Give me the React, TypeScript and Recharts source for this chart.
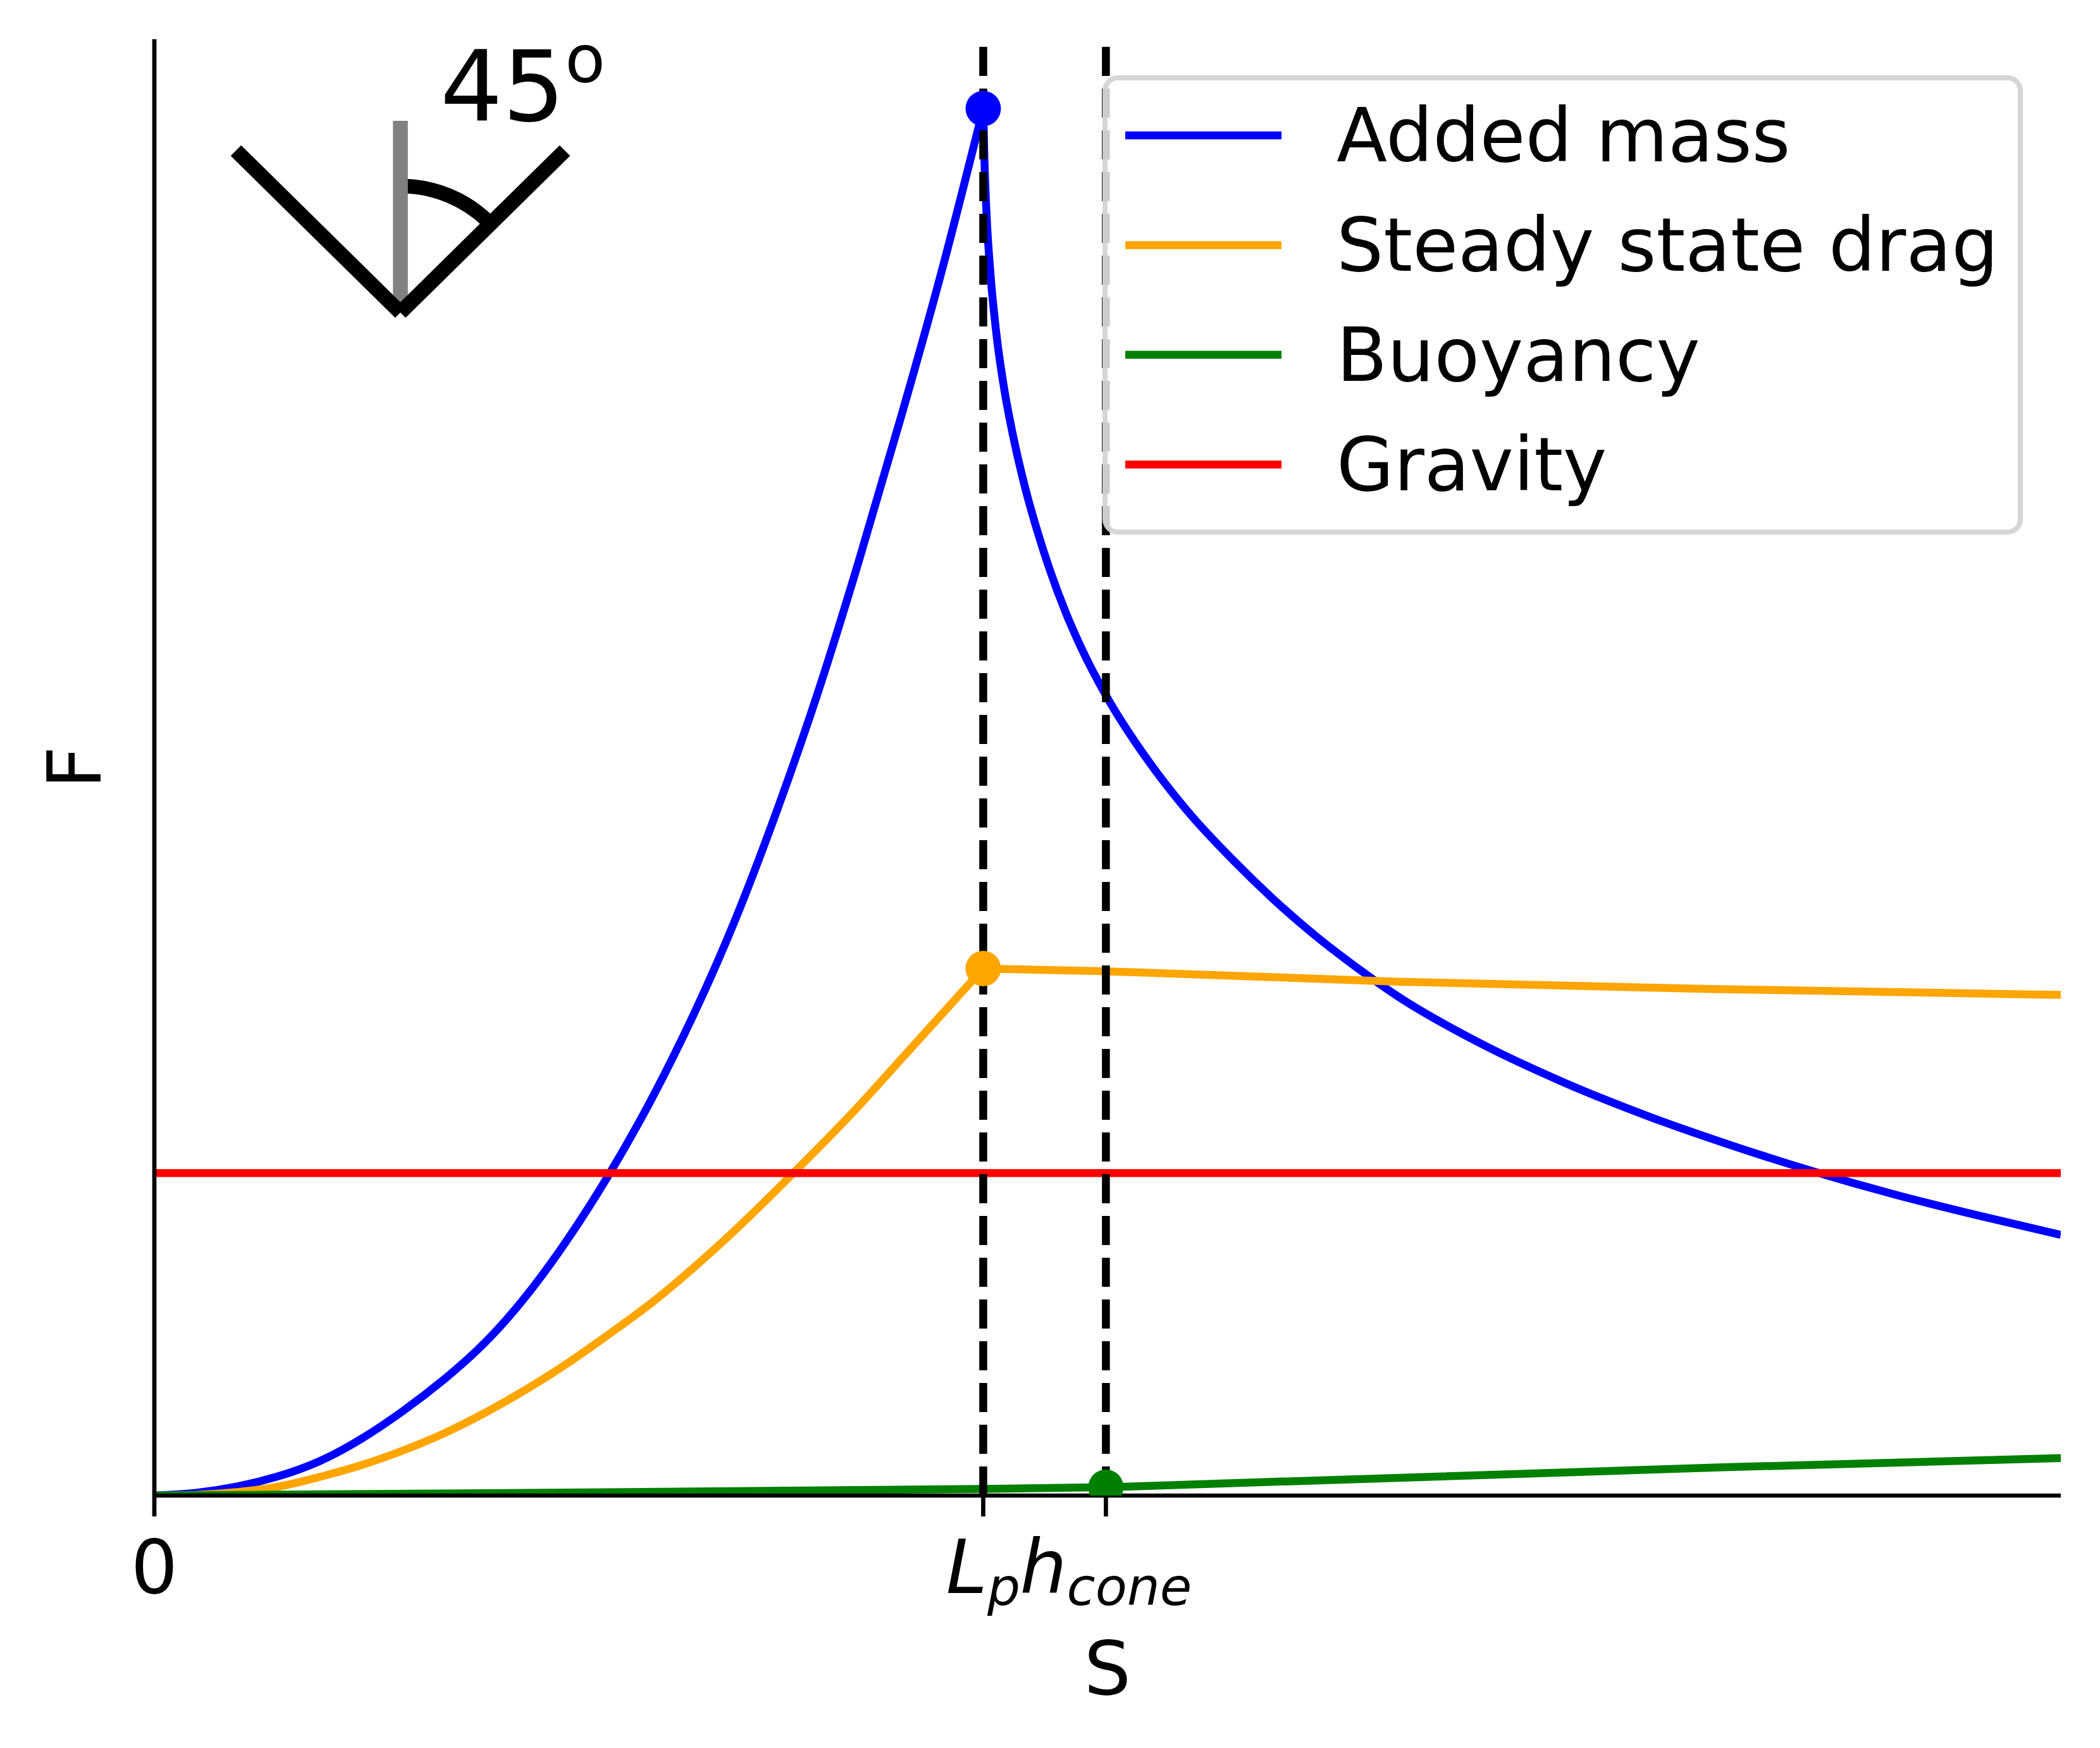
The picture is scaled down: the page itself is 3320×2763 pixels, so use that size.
import React from 'react'
import { LineChart, Line, XAxis, YAxis, Legend } from 'recharts'

// S positions of the two dashed markers (Lp scaled to 1)
const LP = 1
const HCONE = 1.148
const S_MAX = 2.3
const F_MAX = 105

const seriesNames = ['Added mass', 'Steady state drag', 'Buoyancy', 'Gravity']
const seriesColors = ['#0000ff', '#ffa500', '#008000', '#ff0000']

const addedMassRise = [
  { s: 0, f: 0 }, { s: 0.05, f: 0.2 }, { s: 0.1, f: 0.65 }, { s: 0.15, f: 1.4 },
  { s: 0.2, f: 2.5 }, { s: 0.25, f: 4.1 }, { s: 0.3, f: 6.1 }, { s: 0.35, f: 8.4 },
  { s: 0.4, f: 11.1 }, { s: 0.45, f: 14.5 }, { s: 0.5, f: 18.6 }, { s: 0.55, f: 23.3 },
  { s: 0.6, f: 28.6 }, { s: 0.65, f: 34.6 }, { s: 0.7, f: 41.4 }, { s: 0.75, f: 49.2 },
  { s: 0.8, f: 57.8 }, { s: 0.85, f: 67.4 }, { s: 0.9, f: 77.6 }, { s: 0.95, f: 88.3 },
  { s: 1.0, f: 100 },
]
const addedMassFall = [
  { s: 1.0, f: 100 }, { s: 1.0015, f: 96.2 }, { s: 1.004, f: 92.4 }, { s: 1.009, f: 87.9 },
  { s: 1.016, f: 83.7 }, { s: 1.025, f: 79.9 }, { s: 1.035, f: 76.7 }, { s: 1.05, f: 72.8 },
  { s: 1.066, f: 69.4 }, { s: 1.08, f: 66.8 }, { s: 1.1, f: 63.6 }, { s: 1.12, f: 60.9 },
  { s: 1.148, f: 57.7 }, { s: 1.2, f: 52.9 }, { s: 1.25, f: 49.1 }, { s: 1.3, f: 45.9 },
  { s: 1.35, f: 43.0 }, { s: 1.4, f: 40.4 }, { s: 1.45, f: 38.1 }, { s: 1.5, f: 36.0 },
  { s: 1.6, f: 32.6 }, { s: 1.7, f: 29.8 }, { s: 1.8, f: 27.4 }, { s: 1.9, f: 25.3 },
  { s: 2.0, f: 23.4 }, { s: 2.1, f: 21.7 }, { s: 2.2, f: 20.2 }, { s: 2.3, f: 18.8 },
]
const dragRise = [
  { s: 0, f: 0 }, { s: 0.05, f: 0.05 }, { s: 0.1, f: 0.25 }, { s: 0.15, f: 0.65 },
  { s: 0.2, f: 1.35 }, { s: 0.25, f: 2.2 }, { s: 0.3, f: 3.25 }, { s: 0.35, f: 4.5 },
  { s: 0.4, f: 6.0 }, { s: 0.45, f: 7.7 }, { s: 0.5, f: 9.6 }, { s: 0.55, f: 11.7 },
  { s: 0.6, f: 13.9 }, { s: 0.65, f: 16.4 }, { s: 0.7, f: 19.1 }, { s: 0.75, f: 22.0 },
  { s: 0.8, f: 25.0 }, { s: 0.85, f: 28.1 }, { s: 0.9, f: 31.4 }, { s: 0.95, f: 34.7 },
  { s: 1.0, f: 38.0 },
]
const dragFall = [
  { s: 1.0, f: 38.0 }, { s: 1.148, f: 37.8 }, { s: 1.5, f: 37.05 }, { s: 1.9, f: 36.5 },
  { s: 2.3, f: 36.1 },
]
const buoyancy = [
  { s: 0, f: 0 }, { s: 0.5, f: 0.22 }, { s: 1.0, f: 0.48 }, { s: 1.148, f: 0.6 },
  { s: 1.899, f: 2.05 }, { s: 2.3, f: 2.7 },
]
const gravity = [{ s: 0, f: 23.25 }, { s: 2.3, f: 23.25 }]

// highlighted points: added mass peak, drag peak, buoyancy at h_cone
const markers = [{ s: LP, f: 100 }, { s: LP, f: 38.0 }, { s: HCONE, f: 0.6 }]
const markerColors = ['#0000ff', '#ffa500', '#008000']

// vertical dashed guides at Lp and h_cone
const guides = [LP, HCONE]

const xTicks = [0, LP, HCONE]
const tickLabels: [string, string][] = [['0', ''], ['L', 'p'], ['h', 'cone']]

const FONT = '"DejaVu Sans", sans-serif'
const FS = 117
const LW = 12.5

function renderTick(props: any) {
  const i = xTicks.indexOf(props.payload.value)
  const [main, sub] = tickLabels[i] ?? ['', '']
  return (
    <text x={props.x} y={props.y + 121} textAnchor="middle" fontSize={FS} fill="#000" fontFamily={FONT}>
      {sub ? (
        <>
          <tspan fontStyle="italic">{main}</tspan>
          <tspan fontStyle="italic" fontSize={82} dy={19}>{sub}</tspan>
        </>
      ) : main}
    </text>
  )
}

function renderXLabel(props: any) {
  const vb = props.viewBox
  return (
    <text x={vb.x + vb.width / 2} y={vb.y + 314} textAnchor="middle" fontSize={FS} fill="#000" fontFamily={FONT}>
      S
    </text>
  )
}

function renderYLabel(props: any) {
  const vb = props.viewBox
  const cy = vb.y + vb.height / 2
  return (
    <text transform={`translate(${vb.x + vb.width - 85},${cy}) rotate(-90)`} textAnchor="middle" fontSize={FS} fill="#000" fontFamily={FONT}>
      F
    </text>
  )
}

function renderLegend(props: any) {
  const items = seriesNames
    .map((n) => (props.payload ?? []).find((p: any) => p.value === n))
    .filter(Boolean)
  return (
    <div style={{ position: 'relative', width: 1455, height: 726 }}>
      <div
        style={{
          position: 'absolute', inset: 0, boxSizing: 'border-box',
          border: '8px solid rgba(204,204,204,0.8)', borderRadius: 24,
          background: 'rgba(255,255,255,0.8)',
        }}
      />
      <svg width={1455} height={726} style={{ position: 'absolute', left: 0, top: 0 }}>
        {items.map((it: any, k: number) => (
          <g key={it.value}>
            <line x1={36} x2={283} y1={95 + k * 173.4} y2={95 + k * 173.4} stroke={it.color} strokeWidth={LW} />
            <text x={370} y={136 + k * 173.4} fontSize={FS} fill="#000" fontFamily={FONT}>{it.value}</text>
          </g>
        ))}
      </svg>
    </div>
  )
}

function ConeIcon() {
  // small sketch of the 45 degree cone in the upper left corner
  return (
    <svg width={3320} height={2763} style={{ position: 'absolute', left: 0, top: 0, pointerEvents: 'none' }}>
      <path d="M 633 294 A 200 200 0 0 1 774.4 352.6" fill="none" stroke="#000" strokeWidth={23} />
      <line x1={633} y1={191} x2={633} y2={494} stroke="#808080" strokeWidth={23.5} />
      <line x1={633} y1={494} x2={373} y2={238} stroke="#000" strokeWidth={23.5} />
      <line x1={633} y1={494} x2={893} y2={238} stroke="#000" strokeWidth={23.5} />
      <text x={696} y={191} fontSize={155} fill="#000" fontFamily={FONT}>
        45<tspan fontSize={104} dy={-61}>o</tspan>
      </text>
    </svg>
  )
}

export default function App() {
  return (
    <div style={{ position: 'absolute', left: 0, top: 0, width: 3320, height: 2763, background: '#fff', fontFamily: FONT }}>
      <LineChart width={3320} height={2763} margin={{ top: 62, right: 62, left: 243, bottom: 249 }}>
        <XAxis
          dataKey="s"
          type="number"
          domain={[0, S_MAX]}
          ticks={xTicks}
          interval={0}
          height={150}
          tickSize={33}
          tickMargin={0}
          axisLine={{ stroke: '#000', strokeWidth: 6.7 }}
          tickLine={{ stroke: '#000', strokeWidth: 6.7 }}
          tick={renderTick}
          label={renderXLabel}
          allowDataOverflow
        />
        <YAxis
          type="number"
          domain={[0, F_MAX]}
          width={1}
          tick={false}
          tickLine={false}
          axisLine={{ stroke: '#000', strokeWidth: 6.7 }}
          label={renderYLabel}
          allowDataOverflow
        />
        <Line data={addedMassRise} dataKey="f" name={seriesNames[0]} stroke={seriesColors[0]} strokeWidth={LW} dot={false} type="natural" isAnimationActive={false} />
        <Line data={addedMassFall} dataKey="f" name="am2" legendType="none" stroke={seriesColors[0]} strokeWidth={LW} dot={false} type="monotone" isAnimationActive={false} />
        <Line data={dragRise} dataKey="f" name={seriesNames[1]} stroke={seriesColors[1]} strokeWidth={LW} dot={false} type="natural" isAnimationActive={false} />
        <Line data={dragFall} dataKey="f" name="dr2" legendType="none" stroke={seriesColors[1]} strokeWidth={LW} dot={false} type="monotone" isAnimationActive={false} />
        <Line data={buoyancy} dataKey="f" name={seriesNames[2]} stroke={seriesColors[2]} strokeWidth={LW} dot={false} type="linear" isAnimationActive={false} />
        <Line data={gravity} dataKey="f" name={seriesNames[3]} stroke={seriesColors[3]} strokeWidth={LW} dot={false} type="linear" isAnimationActive={false} />
        {markers.map((m, i) => (
          <Line
            key={'m' + i}
            data={[m]}
            dataKey="f"
            name={'marker' + i}
            legendType="none"
            stroke="none"
            dot={{ r: 28, fill: markerColors[i], stroke: 'none', strokeWidth: 0 }}
            isAnimationActive={false}
          />
        ))}
        {guides.map((g, i) => (
          <Line
            key={'g' + i}
            data={[{ s: g, f: 0 }, { s: g, f: F_MAX }]}
            dataKey="f"
            name={'guide' + i}
            legendType="none"
            stroke="#000"
            strokeWidth={LW}
            strokeDasharray="46 20"
            dot={false}
            type="linear"
            isAnimationActive={false}
          />
        ))}
        <Legend
          layout="vertical"
          align="center"
          verticalAlign="middle"
          width={1455}
          height={726}
          wrapperStyle={{ left: 1743, top: 119, width: 1455, height: 726, margin: 0, padding: 0 }}
          content={renderLegend}
        />
      </LineChart>
      <ConeIcon />
    </div>
  )
}
